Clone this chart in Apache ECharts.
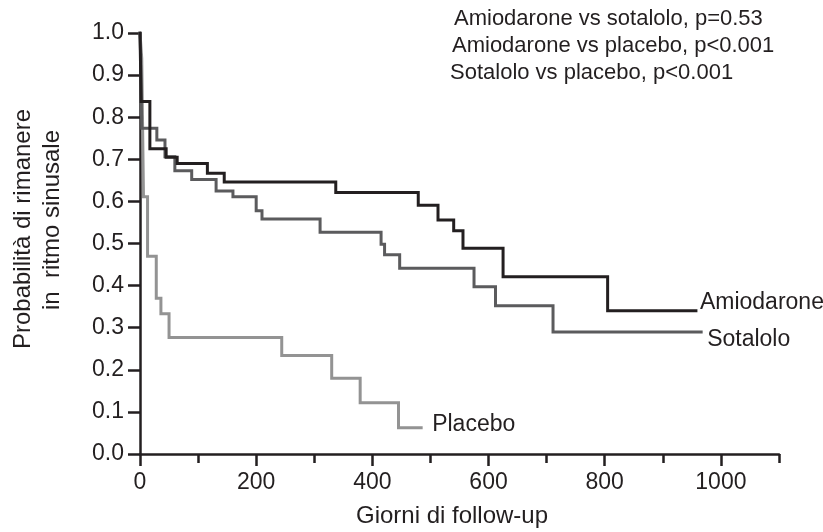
<!DOCTYPE html>
<html>
<head>
<meta charset="utf-8">
<style>
  html, body { margin: 0; padding: 0; background: #fff; }
  #main { width: 823px; height: 532px; }
</style>
<script src="https://cdn.jsdelivr.net/npm/echarts@6/dist/echarts.min.js"></script>
</head>
<body>
<div id="main"></div>
<script>
// tempi (giorni) e probabilità, curve di Kaplan-Meier
const amioDays = [0, 2, 17, 45, 64, 116, 145, 337, 479, 513, 540, 556, 625, 805, 957];
const amioProb = [1.0, 0.837, 0.725, 0.705, 0.69, 0.667, 0.646, 0.621, 0.591, 0.556, 0.53, 0.489, 0.421, 0.34, 0.34];

const sotaDays = [0, 1, 3, 29, 43, 60, 89, 131, 160, 200, 210, 310, 415, 421, 447, 575, 612, 711, 966];
const sotaProb = [1.0, 0.95, 0.774, 0.746, 0.706, 0.673, 0.652, 0.625, 0.611, 0.578, 0.558, 0.527, 0.498, 0.473, 0.441, 0.397, 0.352, 0.29, 0.29];

const placDays = [0, 3, 6, 13, 28, 36, 50, 244, 330, 379, 445, 484];
const placProb = [1.0, 0.94, 0.611, 0.47, 0.37, 0.333, 0.277, 0.234, 0.18, 0.122, 0.0625, 0.0625];

const xLabelTicks = [0, 200, 400, 600, 800, 1000];
const pValues = [
    'Amiodarone vs sotalolo, p=0.53',
    'Amiodarone vs placebo, p<0.001',
    'Sotalolo vs placebo, p<0.001'
];

const FONT = '"Liberation Sans", Arial, sans-serif';
const INK = '#231f20';

function pairs(days, prob) {
    return days.map((d, i) => [d, prob[i]]);
}

const myChart = echarts.init(document.getElementById('main'), null, { renderer: 'canvas' });

const gridBox = { left: 140, top: 33, width: 639, height: 421 };

function kmSeries(name, days, prob, color, labelCfg) {
    return {
        name: name,
        type: 'line',
        xAxisIndex: 0,
        yAxisIndex: 0,
        step: 'end',
        symbol: 'none',
        data: pairs(days, prob),
        lineStyle: { width: 3, color: color, cap: 'square', join: 'miter' },
        endLabel: Object.assign({
            show: true,
            formatter: name,
            fontFamily: FONT,
            fontSize: 23,
            color: INK,
            position: 'right'
        }, labelCfg)
    };
}

option = {
    animation: false,
    backgroundColor: '#fff',
    grid: [
        Object.assign({}, gridBox, { containLabel: false }),
        Object.assign({}, gridBox, { containLabel: false })
    ],
    xAxis: [{
        gridIndex: 0,
        type: 'value',
        min: 0,
        max: 1100,
        interval: 100,
        axisLine: { show: true, onZero: false, lineStyle: { color: INK, width: 2.5 } },
        axisTick: { show: true, length: 12, customValues: xLabelTicks, lineStyle: { color: INK, width: 2.5 } },
        axisLabel: {
            customValues: xLabelTicks,
            margin: 17,
            fontFamily: FONT,
            fontSize: 23,
            color: INK,
            formatter: v => String(v)
        },
        splitLine: { show: false }
    }, {
        // tacche corte ogni 100 giorni
        gridIndex: 1,
        type: 'value',
        min: 0,
        max: 1100,
        interval: 100,
        axisLine: { show: false },
        axisTick: { show: true, length: 9, lineStyle: { color: INK, width: 2.5 } },
        axisLabel: { show: false },
        splitLine: { show: false }
    }],
    yAxis: [{
        gridIndex: 0,
        type: 'value',
        min: 0,
        max: 1,
        interval: 0.1,
        axisLine: { show: true, onZero: false, lineStyle: { color: INK, width: 2.5 } },
        axisTick: { show: true, length: 12, lineStyle: { color: INK, width: 2.5 } },
        axisLabel: {
            margin: 16,
            fontFamily: FONT,
            fontSize: 23,
            color: INK,
            formatter: v => v.toFixed(1)
        },
        splitLine: { show: false }
    }, {
        gridIndex: 1,
        type: 'value',
        min: 0,
        max: 1,
        show: false
    }],
    series: [
        kmSeries('Placebo', placDays, placProb, '#939393', { distance: 11, offset: [0, -3] }),
        kmSeries('Sotalolo', sotaDays, sotaProb, '#5b5b5d', { distance: 6, offset: [0, 8] }),
        kmSeries('Amiodarone', amioDays, amioProb, INK, { distance: 4, offset: [0, -8] })
    ],
    graphic: [
        {
            type: 'text', left: 454, top: 8,
            style: { text: pValues[0], font: '22px ' + FONT, fill: INK }
        },
        {
            type: 'text', left: 452, top: 35,
            style: { text: pValues[1], font: '22px ' + FONT, fill: INK }
        },
        {
            type: 'text', left: 450, top: 62,
            style: { text: pValues[2], font: '22px ' + FONT, fill: INK }
        },
        {
            type: 'text', x: 452, y: 516,
            style: { text: 'Giorni di follow-up', font: '24px ' + FONT, fill: INK, align: 'center', verticalAlign: 'middle' }
        },
        {
            type: 'text', x: 23, y: 229, rotation: Math.PI / 2,
            style: { text: 'Probabilità di rimanere', font: '24px ' + FONT, fill: INK, align: 'center', verticalAlign: 'middle' }
        },
        {
            type: 'text', x: 52, y: 220, rotation: Math.PI / 2,
            style: { text: 'in  ritmo sinusale', font: '24px ' + FONT, fill: INK, align: 'center', verticalAlign: 'middle' }
        }
    ]
};

myChart.setOption(option);
</script>
</body>
</html>
